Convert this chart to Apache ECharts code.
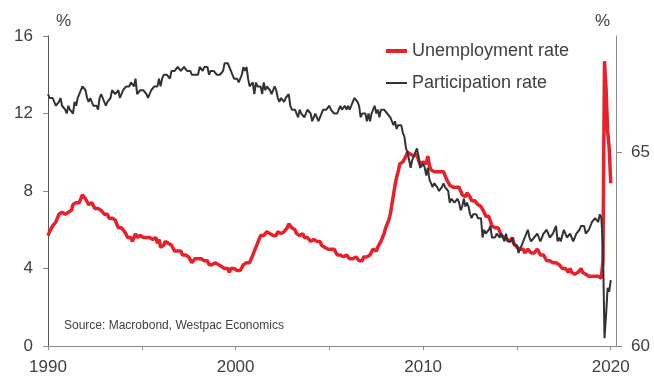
<!DOCTYPE html>
<html>
<head>
<meta charset="utf-8">
<script src="https://cdn.jsdelivr.net/npm/echarts@6/dist/echarts.min.js"></script>
<style>
  html, body { margin: 0; padding: 0; background: #fff; }
  #chart { width: 654px; height: 376px; }
</style>
</head>
<body>
<div id="chart"></div>
<script>
// Monthly readings, Aug 1990 to Aug 2020 (per cent)
const unemployment = [
  5.7, 5.9, 5.9, 6.2, 6.3,
  6.4, 6.6, 6.8, 6.7, 6.9, 6.9, 6.8, 6.9, 6.9, 7.0, 7.0, 7.3,
  7.3, 7.4, 7.4, 7.4, 7.6, 7.8, 7.7, 7.6, 7.6, 7.3, 7.4, 7.4,
  7.3, 7.1, 7.0, 7.1, 7.1, 7.0, 6.9, 6.8, 6.7, 6.8, 6.6, 6.5,
  6.6, 6.6, 6.5, 6.4, 6.1, 6.1, 6.1, 6.0, 5.9, 5.8, 5.6, 5.5,
  5.6, 5.4, 5.4, 5.8, 5.6, 5.6, 5.7, 5.7, 5.6, 5.5, 5.6, 5.6,
  5.6, 5.5, 5.5, 5.6, 5.6, 5.3, 5.5, 5.1, 5.2, 5.2, 5.4, 5.4,
  5.3, 5.2, 5.2, 5.1, 4.9, 5.0, 4.9, 4.8, 4.9, 4.7, 4.6, 4.7,
  4.6, 4.6, 4.7, 4.3, 4.4, 4.5, 4.5, 4.5, 4.6, 4.5, 4.4, 4.4,
  4.3, 4.4, 4.2, 4.3, 4.2, 4.3, 4.3, 4.2, 4.2, 4.1, 4.1, 4.0,
  4.0, 4.1, 4.0, 3.8, 4.0, 4.0, 4.0, 4.1, 3.9, 3.9, 3.9, 3.9,
  4.2, 4.2, 4.3, 4.4, 4.3, 4.5, 4.6, 4.9, 5.0, 5.3, 5.5, 5.7,
  5.7, 5.7, 5.7, 5.9, 5.8, 5.8, 5.8, 5.7, 5.7, 5.7, 5.9, 6.0,
  5.8, 5.9, 5.9, 6.0, 6.1, 6.3, 6.2, 6.1, 6.1, 6.0, 5.8, 5.7,
  5.7, 5.6, 5.8, 5.6, 5.6, 5.6, 5.5, 5.4, 5.4, 5.5, 5.4, 5.4,
  5.3, 5.4, 5.2, 5.2, 5.1, 5.0, 5.0, 4.9, 5.0, 5.0, 5.0, 4.9,
  4.7, 4.8, 4.7, 4.7, 4.6, 4.6, 4.7, 4.7, 4.5, 4.4, 4.5, 4.4,
  4.6, 4.5, 4.4, 4.5, 4.4, 4.6, 4.7, 4.6, 4.7, 4.7, 4.7, 5.0,
  5.0, 4.9, 5.1, 5.0, 5.4, 5.6, 5.8, 6.1, 6.1, 6.5, 6.8, 7.3,
  7.8, 8.3, 8.7, 9.0, 9.4, 9.5, 9.5, 9.6, 9.8, 10.0, 9.9, 9.9,
  9.8, 9.8, 9.9, 9.9, 9.6, 9.4, 9.4, 9.5, 9.5, 9.4, 9.8, 9.3,
  9.1, 9.0, 9.0, 9.1, 9.0, 9.1, 9.0, 9.0, 9.0, 8.8, 8.6, 8.5,
  8.3, 8.3, 8.2, 8.2, 8.2, 8.2, 8.2, 8.0, 7.8, 7.8, 7.7, 7.9,
  8.0, 7.7, 7.5, 7.6, 7.5, 7.5, 7.3, 7.2, 7.2, 7.2, 6.9, 6.7,
  6.6, 6.7, 6.7, 6.2, 6.3, 6.1, 6.2, 6.1, 5.9, 5.7, 5.8, 5.6,
  5.7, 5.5, 5.4, 5.4, 5.6, 5.3, 5.2, 5.1, 5.0, 5.0, 5.1, 5.0,
  4.8, 4.9, 5.0, 5.1, 4.8, 4.9, 4.8, 4.9, 5.0, 4.9, 4.7, 4.7,
  4.7, 4.6, 4.4, 4.4, 4.4, 4.3, 4.3, 4.4, 4.3, 4.2, 4.2, 4.1,
  4.0, 4.1, 4.0, 4.0, 3.8, 4.0, 3.8, 3.8, 3.7, 3.8, 3.8, 3.9,
  4.0, 3.8, 3.8, 3.7, 3.6, 3.6, 3.7, 3.6, 3.5, 3.6, 3.6, 3.6,
  3.5, 3.5, 4.4, 14.7, 13.3, 11.1, 10.2, 8.4
];

const participation = [
  66.5, 66.4, 66.4, 66.4, 66.4,
  66.2, 66.2, 66.3, 66.4, 66.2, 66.2, 66.1, 66.0, 66.2, 66.1, 66.1, 66.0,
  66.3, 66.2, 66.4, 66.5, 66.6, 66.7, 66.7, 66.6, 66.4, 66.3, 66.4, 66.4,
  66.2, 66.2, 66.2, 66.1, 66.4, 66.5, 66.4, 66.4, 66.2, 66.3, 66.3, 66.4,
  66.6, 66.6, 66.5, 66.5, 66.6, 66.4, 66.4, 66.6, 66.6, 66.7, 66.7, 66.7,
  66.8, 66.8, 66.7, 66.9, 66.5, 66.5, 66.6, 66.6, 66.6, 66.6, 66.5, 66.4,
  66.4, 66.6, 66.6, 66.7, 66.7, 66.7, 66.9, 66.7, 66.9, 67.0, 67.0, 67.0,
  67.0, 66.9, 67.1, 67.1, 67.1, 67.1, 67.2, 67.2, 67.1, 67.1, 67.2, 67.2,
  67.1, 67.1, 67.1, 67.0, 67.0, 67.0, 67.0, 67.0, 67.2, 67.2, 67.1, 67.2,
  67.2, 67.2, 67.0, 67.1, 67.1, 67.1, 67.1, 67.0, 67.0, 67.0, 67.0, 67.1,
  67.3, 67.3, 67.3, 67.3, 67.1, 67.1, 66.9, 66.9, 66.9, 66.8, 66.9, 67.0,
  67.2, 67.1, 67.2, 66.9, 66.7, 66.7, 66.8, 66.5, 66.8, 66.7, 66.7, 66.7,
  66.5, 66.8, 66.6, 66.7, 66.7, 66.6, 66.5, 66.6, 66.7, 66.6, 66.4, 66.3,
  66.4, 66.4, 66.3, 66.4, 66.4, 66.5, 66.2, 66.1, 66.1, 66.1, 66.1, 65.9,
  66.1, 66.0, 66.0, 65.9, 66.0, 66.1, 66.1, 66.0, 65.8, 65.9, 66.0, 65.9,
  65.8, 65.9, 65.9, 66.1, 66.1, 66.1, 66.1, 66.2, 66.1, 66.1, 66.0, 66.0,
  66.0, 66.1, 66.2, 66.1, 66.1, 66.2, 66.1, 66.2, 66.1, 66.2, 66.3, 66.4,
  66.4, 66.3, 66.2, 65.9, 66.0, 66.0, 66.0, 65.8, 66.0, 65.8, 66.0, 66.0,
  66.2, 66.0, 66.1, 65.9, 66.1, 66.1, 66.1, 66.1, 66.0, 66.0, 65.9, 65.8,
  65.7, 65.8, 65.6, 65.7, 65.7, 65.7, 65.5, 65.4, 65.1, 65.0, 65.0, 64.6,
  64.8, 64.9, 64.9, 65.1, 64.9, 64.6, 64.6, 64.7, 64.6, 64.4, 64.6, 64.3,
  64.2, 64.1, 64.2, 64.2, 64.1, 64.0, 64.0, 64.1, 64.2, 64.1, 64.1, 64.0,
  63.7, 63.8, 63.8, 63.7, 63.7, 63.8, 63.7, 63.5, 63.6, 63.8, 63.6, 63.7,
  63.6, 63.4, 63.3, 63.4, 63.4, 63.4, 63.3, 63.3, 63.3, 62.8, 63.0, 62.9,
  62.9, 63.0, 63.1, 62.8, 62.8, 62.8, 62.9, 62.9, 62.8, 62.9, 62.9, 62.7,
  62.9, 62.7, 62.7, 62.7, 62.8, 62.6, 62.6, 62.6, 62.4, 62.5, 62.5, 62.7,
  62.8, 62.9, 63.0, 62.8, 62.7, 62.7, 62.8, 62.8, 62.9, 62.8, 62.7, 62.7,
  62.9, 62.9, 63.0, 62.9, 62.8, 62.8, 62.9, 62.9, 63.1, 62.7, 62.8, 62.7,
  62.7, 63.0, 62.9, 62.8, 62.8, 62.9, 62.9, 62.7, 62.7, 62.9, 62.9, 63.0,
  63.1, 63.1, 63.1, 62.9, 62.9, 63.0, 63.1, 63.2, 63.2, 63.3, 63.3, 63.2,
  63.4, 63.3, 62.6, 60.2, 60.8, 61.5, 61.4, 61.7
];

// Axis ticks and labels
const xTicks = [1990, 1995, 2000, 2005, 2010, 2015, 2020];
const xLabels = [1990, 2000, 2010, 2020];
const leftTicks = [0, 4, 8, 12, 16];
const rightTicks = [60, 65];

// First reading sits on the left edge of the time axis; one step per month
const firstPos = 1990;
const toPairs = arr => arr.map((v, i) => [firstPos + i / 12, v]);

const FONT = "'Liberation Sans', Arial, sans-serif";
const TXT = '#404040';
const RED = '#e8202a';
const DARK = '#333333';

const chart = echarts.init(document.getElementById('chart'), null, { renderer: 'canvas' });

chart.setOption({
  animation: false,
  backgroundColor: '#ffffff',
  textStyle: { fontFamily: FONT },
  grid: { left: 48, right: 38, top: 36, bottom: 29, containLabel: false },
  legend: [
    {
      data: ['Unemployment rate'],
      left: 386, top: 42, padding: 0,
      icon: 'rect', itemWidth: 21, itemHeight: 4, itemGap: 0,
      textStyle: { fontSize: 18, color: TXT, fontFamily: FONT }
    },
    {
      data: ['Participation rate'],
      left: 386, top: 74, padding: 0,
      icon: 'rect', itemWidth: 21, itemHeight: 2, itemGap: 0,
      textStyle: { fontSize: 18, color: TXT, fontFamily: FONT }
    }
  ],
  xAxis: {
    type: 'value',
    min: 1990, max: 2020.28,
    interval: 5,
    axisLine: { show: true, lineStyle: { color: '#8c8c8c', width: 1 } },
    axisTick: { show: true, length: 4, customValues: xTicks, lineStyle: { color: '#8c8c8c' } },
    axisLabel: {
      customValues: xLabels,
      formatter: v => String(v),
      fontSize: 17, color: TXT, margin: 13, fontFamily: FONT
    },
    splitLine: { show: false }
  },
  yAxis: [
    {
      type: 'value', min: 0, max: 16, interval: 4,
      position: 'left',
      axisLine: { show: true, lineStyle: { color: '#555555', width: 1 } },
      axisTick: { show: true, length: 5, customValues: leftTicks, lineStyle: { color: '#8c8c8c' } },
      axisLabel: { customValues: leftTicks, fontSize: 17, color: TXT, margin: 15, fontFamily: FONT },
      splitLine: { show: false }
    },
    {
      type: 'value', min: 60, max: 68, interval: 5,
      position: 'right',
      axisLine: { show: true, lineStyle: { color: '#8c8c8c', width: 1 } },
      axisTick: { show: true, length: 6, customValues: rightTicks, lineStyle: { color: '#8c8c8c' } },
      axisLabel: { customValues: rightTicks, fontSize: 17, color: TXT, margin: 15, fontFamily: FONT },
      splitLine: { show: false }
    }
  ],
  graphic: [
    { type: 'text', left: 56, top: 13, style: { text: '%', fontSize: 17, fill: TXT, fontFamily: FONT } },
    { type: 'text', left: 595, top: 13, style: { text: '%', fontSize: 17, fill: TXT, fontFamily: FONT } },
    { type: 'text', left: 64, top: 320, style: { text: 'Source: Macrobond, Westpac Economics', fontSize: 12, fill: TXT, fontFamily: FONT } }
  ],
  series: [
    {
      name: 'Unemployment rate',
      type: 'line',
      yAxisIndex: 0,
      data: toPairs(unemployment),
      showSymbol: false, symbol: 'none',
      lineStyle: { color: RED, width: 3.5 },
      itemStyle: { color: RED },
      z: 2
    },
    {
      name: 'Participation rate',
      type: 'line',
      yAxisIndex: 1,
      data: toPairs(participation),
      showSymbol: false, symbol: 'none',
      lineStyle: { color: DARK, width: 2 },
      itemStyle: { color: DARK },
      z: 3
    }
  ]
});
</script>
</body>
</html>
